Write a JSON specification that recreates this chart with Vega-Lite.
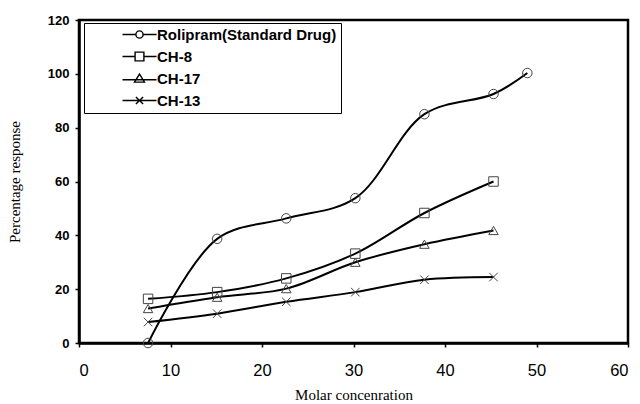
{
  "$schema": "https://vega.github.io/schema/vega-lite/v6.json",
  "width": 549,
  "height": 323,
  "autosize": "none",
  "padding": {"left": 79, "top": 20, "right": 12, "bottom": 61},
  "background": "white",
  "config": {
    "view": {"stroke": "black", "strokeWidth": 2.5},
    "axis": {"grid": false, "domainColor": "black", "domainWidth": 2.5, "tickColor": "black", "tickWidth": 1.5, "tickSize": 4, "labelColor": "black", "titleColor": "black"}
  },
  "data": {
    "values": [
      {"series": "Rolipram(Standard Drug)", "x": 7.55, "y": 0},
      {"series": "Rolipram(Standard Drug)", "x": 15.1, "y": 38.7},
      {"series": "Rolipram(Standard Drug)", "x": 22.65, "y": 46.3},
      {"series": "Rolipram(Standard Drug)", "x": 30.2, "y": 53.8},
      {"series": "Rolipram(Standard Drug)", "x": 37.75, "y": 85},
      {"series": "Rolipram(Standard Drug)", "x": 45.3, "y": 92.5},
      {"series": "Rolipram(Standard Drug)", "x": 49, "y": 100.3},
      {"series": "CH-8", "x": 7.55, "y": 16.4},
      {"series": "CH-8", "x": 15.1, "y": 18.9},
      {"series": "CH-8", "x": 22.65, "y": 24},
      {"series": "CH-8", "x": 30.2, "y": 33.2},
      {"series": "CH-8", "x": 37.75, "y": 48.3},
      {"series": "CH-8", "x": 45.3, "y": 60},
      {"series": "CH-17", "x": 7.55, "y": 12.8},
      {"series": "CH-17", "x": 15.1, "y": 17},
      {"series": "CH-17", "x": 22.65, "y": 20.2},
      {"series": "CH-17", "x": 30.2, "y": 30},
      {"series": "CH-17", "x": 37.75, "y": 36.7},
      {"series": "CH-17", "x": 45.3, "y": 41.8},
      {"series": "CH-13", "x": 7.55, "y": 7.8},
      {"series": "CH-13", "x": 15.1, "y": 10.9},
      {"series": "CH-13", "x": 22.65, "y": 15.3},
      {"series": "CH-13", "x": 30.2, "y": 18.9},
      {"series": "CH-13", "x": 37.75, "y": 23.5},
      {"series": "CH-13", "x": 45.3, "y": 24.5}
    ]
  },
  "encoding": {
    "x": {
      "field": "x", "type": "quantitative",
      "scale": {"domain": [0, 60], "nice": false, "zero": false},
      "axis": {"values": [0, 10, 20, 30, 40, 50, 60], "title": "Molar concenration", "labelFont": "Liberation Sans", "labelFontSize": 16.5, "labelPadding": 15, "titleFont": "Liberation Serif", "titleFontSize": 15, "titleFontWeight": "normal", "titleY": 56, "titleBaseline": "alphabetic"}
    },
    "y": {
      "field": "y", "type": "quantitative",
      "scale": {"domain": [0, 120], "nice": false},
      "axis": {"values": [0, 20, 40, 60, 80, 100, 120], "title": "Percentage response", "labelFont": "Liberation Sans", "labelFontSize": 13, "labelFontWeight": "bold", "labelPadding": 6, "titleFont": "Liberation Serif", "titleFontSize": 15, "titleFontWeight": "normal", "titleX": -65, "titleBaseline": "middle"}
    }
  },
  "resolve": {"scale": {"shape": "independent"}, "legend": {"shape": "independent"}},
  "layer": [
    {
      "mark": {"type": "line", "color": "black", "strokeWidth": 2, "interpolate": "catmull-rom"},
      "encoding": {"detail": {"field": "series"}}
    },
    {
      "mark": {"type": "point", "filled": false, "stroke": "#444", "strokeWidth": 1, "opacity": 1, "size": 90},
      "encoding": {
        "shape": {
          "field": "series", "type": "nominal",
          "scale": {"domain": ["Rolipram(Standard Drug)", "CH-8", "CH-17", "CH-13"], "range": ["circle", "square", "triangle-up", "M-0.9,-0.9L0.9,0.9M-0.9,0.9L0.9,-0.9"]},
          "legend": null
        }
      }
    },
    {
      "transform": [{"filter": "datum.y < -1000"}],
      "mark": {"type": "point", "filled": false, "stroke": "black", "strokeWidth": 1.4, "opacity": 1},
      "encoding": {
        "shape": {
          "field": "series", "type": "nominal",
          "scale": {"domain": ["Rolipram(Standard Drug)", "CH-8", "CH-17", "CH-13"], "range": [
            "M-4.25,0H-0.9M0.9,0H4.25M-0.9,0A0.9,0.9 0 1,0 0.9,0A0.9,0.9 0 1,0 -0.9,0",
            "M-4.25,0H-1.1M1.1,0H4.25M-1.1,-1.1H1.1V1.1H-1.1Z",
            "M-4.25,0.3H4.25M0,-1.1L1.25,0.9H-1.25Z",
            "M-4.25,0H4.25M-0.9,-0.9L0.9,0.9M-0.9,0.9L0.9,-0.9"
          ]},
          "legend": {
            "title": null,
            "orient": "none",
            "legendX": 5,
            "legendY": 3,
            "padding": 4,
            "strokeColor": "black",
            "fillColor": "white",
            "symbolSize": 64,
            "symbolOffset": 44,
            "labelOffset": 10,
            "symbolStrokeColor": "black",
            "symbolStrokeWidth": 1.4,
            "symbolFillColor": "transparent",
            "labelFont": "Liberation Sans",
            "labelFontSize": 15,
            "labelFontWeight": "bold",
            "labelColor": "black",
            "labelLimit": 400,
            "rowPadding": 6,
            "labelExpr": "datum.value == 'Rolipram(Standard Drug)' ? datum.label + '\u00a0\u00a0\u00a0\u00a0\u00a0\u00a0\u00a0\u00a0' : datum.label"
          }
        }
      }
    }
  ]
}
